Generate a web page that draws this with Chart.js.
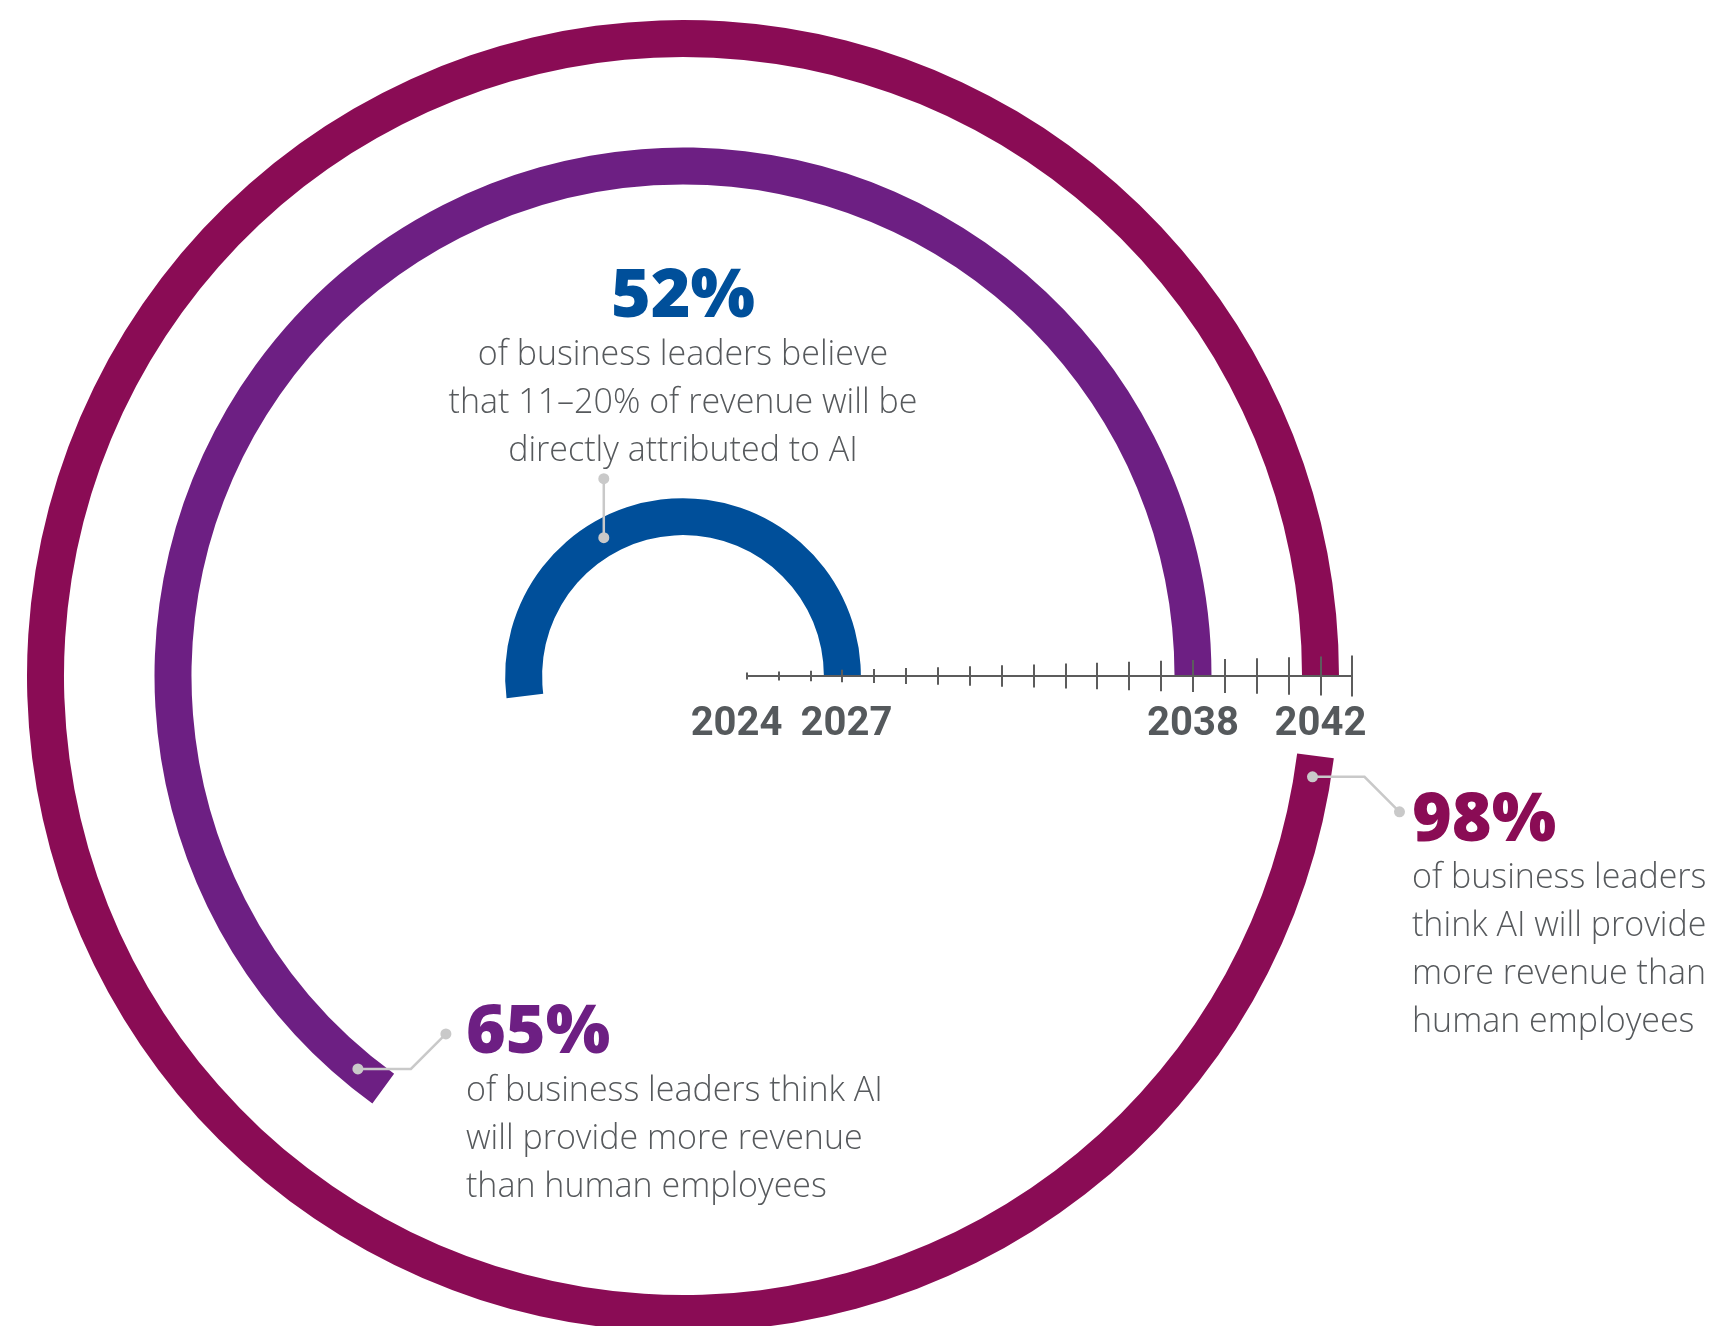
<!DOCTYPE html>
<html>
<head>
<meta charset="utf-8">
<title>AI revenue expectations</title>
<script src="https://cdn.jsdelivr.net/npm/chart.js@4.4.1/dist/chart.umd.min.js"></script>
<style>
  html, body { margin: 0; padding: 0; background: #ffffff; overflow: hidden; }
  #wrap { position: relative; width: 1716px; height: 1326px; overflow: hidden; }
  #wrap canvas { position: absolute; left: 0; top: 0; }
</style>
</head>
<body>
<div id="wrap">
  <canvas id="rings" width="1716" height="1340"></canvas>
  <canvas id="timeline" width="1716" height="1340"></canvas>
</div>
<script>
// Share of business leaders holding each view (%)
const shareValues = [52, 65, 98];
// Year on the timeline that each ring reaches
const targetYears = [2027, 2038, 2042];
// Statement under each figure
const statements = [
  ['of business leaders believe', 'that 11–20% of revenue will be', 'directly attributed to AI'],
  ['of business leaders think AI', 'will provide more revenue', 'than human employees'],
  ['of business leaders', 'think AI will provide', 'more revenue than', 'human employees']
];
// Timeline axis
const axisStartYear = 2024;
const axisEndYear = 2043;
const labeledYears = [2024, 2027, 2038, 2042];
// Year sitting at the common centre of the rings
const originYear = 2022;

const headlines = shareValues.map(v => v + '%');

// ---- styling ----
const W = 1716, H = 1340;
const ringColors = ['#004f9a', '#6d1f83', '#8a0c55'];
const bodyColor = '#56595c';
const leaderColor = '#c9c9c9';
const axisColor = '#5c5c5c';
const headFont = '800 68px "Open Sans", Roboto, sans-serif';
const bodyFont = '300 34px "Open Sans", Roboto, sans-serif';
const bandYears = 1.16;          // ring thickness, in timeline years
const ringBox = { left: 27, top: 20, size: 1312 };

// Callout layout: where the leader leaves each ring and where the text sits
const notes = [
  { ring: 0, anchorDeg: 119.8, leader: [[0, -59]], x: null, align: 'center', headY: 317, bodyY: 365 },
  { ring: 1, anchorDeg: 230.4, leader: [[53, 0], [35, -35]], x: 466, align: 'left', headY: 1053, bodyY: 1101 },
  { ring: 2, anchorDeg: 350.9, leader: [[52, 0], [35, 35]], x: 1412, align: 'left', headY: 841, bodyY: 888 }
];

// ---- rings: one doughnut dataset per ring, transparent spacer rings between ----
const order = targetYears.map((_, i) => i).sort((a, b) => targetYears[b] - targetYears[a]);
const datasets = [];
let prevInner = null;
order.forEach(i => {
  const outerEdge = targetYears[i] - originYear + bandYears / 2;
  if (prevInner !== null) {
    datasets.push({ data: [1], backgroundColor: ['rgba(0,0,0,0)'], weight: prevInner - outerEdge });
  }
  datasets.push({
    label: headlines[i],
    ringIndex: i,
    data: [100 - shareValues[i], shareValues[i]],
    backgroundColor: ['rgba(0,0,0,0)', ringColors[i]],
    weight: bandYears
  });
  prevInner = outerEdge - bandYears;
});
const outerYears = targetYears[order[0]] - originYear + bandYears / 2;
const innerYears = targetYears[order[order.length - 1]] - originYear - bandYears / 2;

const calloutPlugin = {
  id: 'callouts',
  afterDraw(chart) {
    const ctx = chart.ctx;
    notes.forEach(n => {
      const dsIndex = chart.data.datasets.findIndex(d => d.ringIndex === n.ring);
      const arc = chart.getDatasetMeta(dsIndex).data[1];
      const r = (arc.innerRadius + arc.outerRadius) / 2;
      const a = n.anchorDeg * Math.PI / 180;
      let px = arc.x + r * Math.cos(a);
      let py = arc.y - r * Math.sin(a);
      const pts = [[px, py]];
      n.leader.forEach(([dx, dy]) => { px += dx; py += dy; pts.push([px, py]); });

      ctx.save();
      ctx.strokeStyle = leaderColor;
      ctx.lineWidth = 2.5;
      ctx.beginPath();
      pts.forEach((p, k) => k ? ctx.lineTo(p[0], p[1]) : ctx.moveTo(p[0], p[1]));
      ctx.stroke();
      ctx.fillStyle = leaderColor;
      [pts[0], pts[pts.length - 1]].forEach(p => {
        ctx.beginPath();
        ctx.arc(p[0], p[1], 5.5, 0, Math.PI * 2);
        ctx.fill();
      });

      const tx = n.x == null ? arc.x : n.x;
      ctx.textAlign = n.align;
      ctx.textBaseline = 'alphabetic';
      ctx.fillStyle = ringColors[n.ring];
      ctx.font = headFont;
      ctx.fillText(headlines[n.ring], tx, n.headY);
      ctx.fillStyle = bodyColor;
      ctx.font = bodyFont;
      statements[n.ring].forEach((line, k) => ctx.fillText(line, tx, n.bodyY + k * 48));
      ctx.restore();
    });
  }
};

const ringsChart = new Chart(document.getElementById('rings'), {
  type: 'doughnut',
  data: { labels: ['', ''], datasets },
  options: {
    responsive: false,
    animation: false,
    devicePixelRatio: 1,
    events: [],
    rotation: 90,
    circumference: 360,
    cutout: (innerYears / outerYears * 100).toFixed(4) + '%',
    borderWidth: 0,
    hoverBorderWidth: 0,
    hoverOffset: 0,
    offset: 0,
    layout: {
      padding: {
        left: ringBox.left,
        top: ringBox.top,
        right: W - ringBox.left - ringBox.size,
        bottom: H - ringBox.top - ringBox.size
      }
    },
    plugins: { legend: { display: false }, tooltip: { enabled: false } }
  },
  plugins: [calloutPlugin]
});

// ---- timeline axis, scaled so one year equals one ring step ----
const centreArc = ringsChart.getDatasetMeta(0).data[1];
const cx = centreArc.x, cy = centreArc.y;
const pxPerYear = centreArc.outerRadius / outerYears;
const axisBox = 80;

const growingTicks = {
  id: 'growingTicks',
  afterDraw(chart) {
    const s = chart.scales.x;
    const ctx = chart.ctx;
    const n = s.ticks.length;
    ctx.save();
    ctx.strokeStyle = axisColor;
    ctx.lineWidth = 2;
    s.ticks.forEach((t, i) => {
      const x = Math.round(s.getPixelForValue(t.value));
      const len = 7 + (41 - 7) * i / (n - 1);
      ctx.beginPath();
      ctx.moveTo(x, s.top - len / 2);
      ctx.lineTo(x, s.top + len / 2);
      ctx.stroke();
    });
    ctx.restore();
  }
};

new Chart(document.getElementById('timeline'), {
  type: 'scatter',
  data: { datasets: [{ data: [] }] },
  options: {
    responsive: false,
    animation: false,
    devicePixelRatio: 1,
    events: [],
    layout: {
      padding: {
        left: cx + (axisStartYear - originYear) * pxPerYear,
        right: W - (cx + (axisEndYear - originYear) * pxPerYear),
        top: 0,
        bottom: H - cy - axisBox
      }
    },
    plugins: { legend: { display: false }, tooltip: { enabled: false } },
    scales: {
      x: {
        type: 'linear',
        min: axisStartYear,
        max: axisEndYear,
        offset: false,
        grid: { display: false, drawTicks: false },
        border: { display: true, color: axisColor, width: 2 },
        ticks: {
          stepSize: 1,
          autoSkip: false,
          maxRotation: 0,
          minRotation: 0,
          padding: 25,
          color: '#55595c',
          font: { family: 'Roboto, "Liberation Sans", sans-serif', weight: '700', size: 40 },
          callback: v => {
            if (!labeledYears.includes(v)) return '';
            if (v === labeledYears[0]) return v + '\u2002';
            if (v === labeledYears[1]) return '\u2009' + v;
            return String(v);
          }
        },
        afterFit: s => { s.height = axisBox; }
      },
      y: { display: false, min: 0, max: 1 }
    }
  },
  plugins: [growingTicks]
});
</script>
</body>
</html>
